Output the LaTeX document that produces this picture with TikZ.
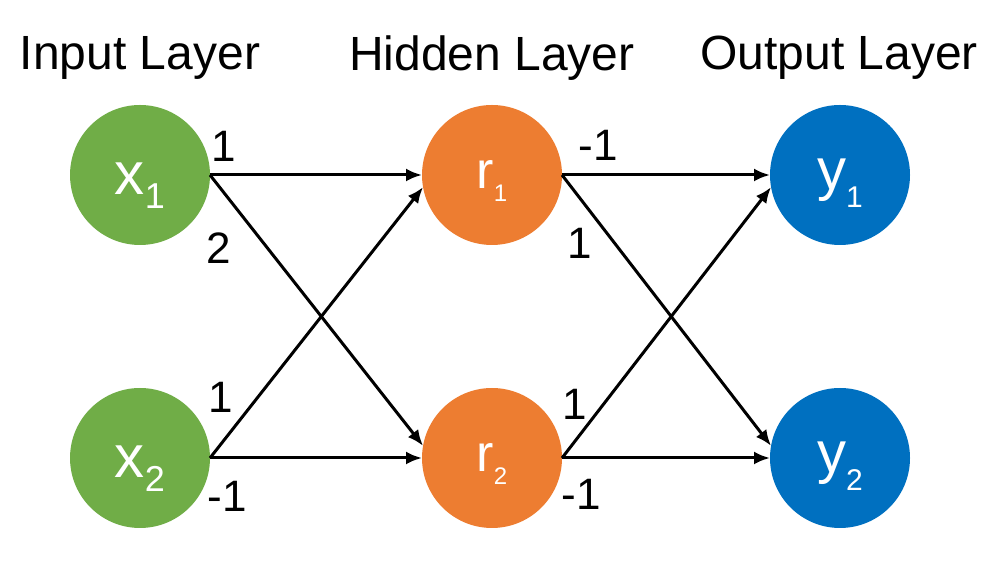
\documentclass[tikz,border=0pt]{standalone}
\usepackage{fontspec}
\setmainfont{Liberation Sans}
\usetikzlibrary{%
	positioning,
	calc,
	arrows.meta
}
\definecolor{ingreen}{HTML}{70AD47}
\definecolor{hidorange}{HTML}{ED7D31}
\definecolor{outblue}{HTML}{0070C0}
\newcommand{\vsub}[5]{{\fontsize{#2}{#2}\selectfont #1}\raisebox{-#5}{\fontsize{#4}{#4}\selectfont #3}}

\begin{document}
\begin{tikzpicture}[x=0.5pt,y=-0.5pt,
		neuron/.style={circle,minimum size=70pt,inner sep=0pt,outer sep=0pt,text=white,text depth=0pt},
		title/.style={font=\fontsize{24}{24}\selectfont},
		weight/.style={font=\fontsize{22}{22}\selectfont,inner sep=0pt},
		conn/.style={-{Latex[length=8pt,width=6.5pt]},line width=1.5pt}
	]
	\useasboundingbox (0,0) rectangle (1007,565);

		\node(x1)[neuron, fill=ingreen, text height=20pt] at (140,175) {\vsub{x}{30pt}{1}{18pt}{7pt}};
		\node(x2)[neuron, fill=ingreen, text height=20pt, below= 71.5pt of x1] {\vsub{x}{30pt}{2}{18pt}{7pt}};
		\node(r1)[neuron, fill=hidorange, text height=14pt, right= 106pt of x1] {\vsub{r}{26pt}{1}{12pt}{6.5pt}};
		\node(r2)[neuron, fill=hidorange, text height=14pt, right= 106pt of x2] {\vsub{r}{26pt}{2}{12pt}{6.5pt}};
		\node(y1)[neuron, fill=outblue, text height=15pt, right= 104pt of r1] {\vsub{y}{29pt}{1}{15pt}{9pt}};
		\node(y2)[neuron, fill=outblue, text height=15pt, right= 104pt of r2] {\vsub{y}{29pt}{2}{15pt}{9pt}};

		\node(name1)[title] at (140,58) {Input Layer};
		\node(name2)[title] at (492,58) {Hidden Layer};
		\node(name3)[title] at (839,58) {Output Layer};

		\path[conn] (x1.east) edge (r1.west);
		\path[conn] (x1.east) edge (r2.170);
		\path[conn] (x2.east) edge (r1.190);
		\path[conn] (x2.east) edge (r2.west);
		\path[conn] (r1.east) edge (y1.west);
		\path[conn] (r1.east) edge (y2.170);
		\path[conn] (r2.east) edge (y1.190);
		\path[conn] (r2.east) edge (y2.west);

		\node(w11)[weight] at ($(x1.east)+(14,-29)$) {1};
		\node(w12)[weight] at ($(x1.east)+(9,73)$) {2};
		\node(w21)[weight] at ($(x2.east)+(11,-61)$) {1};
		\node(w22)[weight] at ($(x2.east)+(17,38)$) {-1};
		\node(v11)[weight] at ($(r1.east)+(36,-30)$) {-1};
		\node(v12)[weight] at ($(r1.east)+(18,68)$) {1};
		\node(v21)[weight] at ($(r2.east)+(13,-54)$) {1};
		\node(v22)[weight] at ($(r2.east)+(19,36)$) {-1};

	\end{tikzpicture}
\end{document}
